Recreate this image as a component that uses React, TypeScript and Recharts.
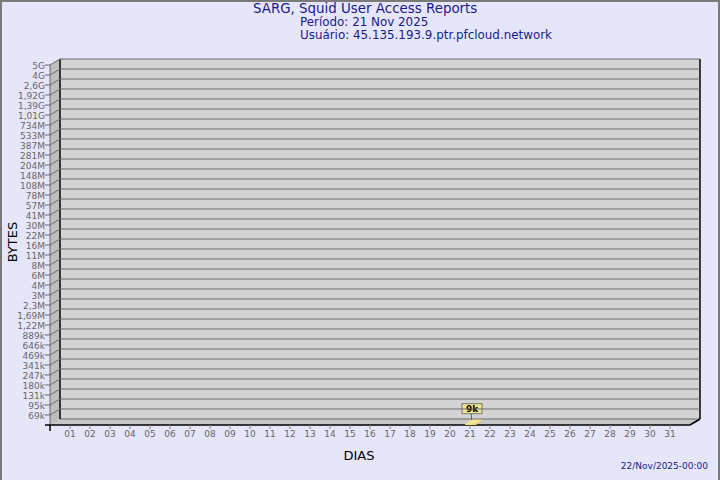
import React from "react";
import { ComposedChart, Bar, XAxis, YAxis, ReferenceArea } from "recharts";

const days = ["01","02","03","04","05","06","07","08","09","10","11","12","13","14","15","16","17","18","19","20","21","22","23","24","25","26","27","28","29","30","31"];
const bytesPerDay = [0,0,0,0,0,0,0,0,0,0,0,0,0,0,0,0,0,0,0,0,9000,0,0,0,0,0,0,0,0,0,0];
const barLabels = ["","","","","","","","","","","","","","","","","","","","","9k","","","","","","","","","",""];
const yTickLabels = ["69k","95k","131k","180k","247k","341k","469k","646k","889k","1,22M","1,69M","2,3M","3M","4M","6M","8M","11M","16M","22M","30M","41M","57M","78M","108M","148M","204M","281M","387M","533M","734M","1,01G","1,39G","1,92G","2,6G","4G","5G"];

const W = 720, H = 480;
const PLOT_LEFT = 50, PLOT_TOP = 65, PLOT_RIGHT = 690, PLOT_BOTTOM = 425;
const DX = 10, DY = 6;
const FONT = "'DejaVu Sans', sans-serif";

const parseLabel = (s: string) => {
  const unit = s.slice(-1);
  const n = parseFloat(s.slice(0, -1).replace(",", "."));
  const m = unit === "k" ? 1e3 : unit === "M" ? 1e6 : 1e9;
  return n * m;
};
const tickBytes = yTickLabels.map(parseLabel);
const bytesToLevel = (v: number) => {
  if (v <= 0) return 0;
  if (v <= tickBytes[0]) return v / tickBytes[0];
  for (let i = 0; i < tickBytes.length - 1; i++) {
    if (v <= tickBytes[i + 1]) return i + 1 + Math.log(v / tickBytes[i]) / Math.log(tickBytes[i + 1] / tickBytes[i]);
  }
  return tickBytes.length;
};

const chartData = days.map((d, i) => ({
  day: i + 1,
  bytes: bytesPerDay[i],
  label: barLabels[i],
  level: bytesPerDay[i] > 0 ? bytesToLevel(bytesPerDay[i]) : null,
}));

const yTicks = yTickLabels.map((_, i) => i + 1);
const xTicks = days.map((_, i) => i + 1);

const Planes = (props: any) => {
  const { x, y, width, height } = props;
  const b = y + height;
  const r = x + width;
  return (
    <g>
      <rect x={x + DX} y={y - DY} width={width} height={height} fill="#d3d3d3" />
      <polygon points={`${x},${b} ${x + DX},${b - DY} ${x + DX},${y - DY} ${x},${y}`} fill="#bebebe" />
      <polygon points={`${x},${b} ${r},${b} ${r + DX},${b - DY} ${x + DX},${b - DY}`} fill="#c6c6c6" />
      <line x1={x + DX} y1={b - DY} x2={r + DX} y2={b - DY} stroke="#6a6a6a" strokeWidth={1} />
      <line x1={x} y1={y} x2={x} y2={b} stroke="#6a6a6a" strokeWidth={1} />
      <line x1={x + DX} y1={y - DY} x2={x + DX} y2={b - DY} stroke="#000" strokeWidth={1.5} />
      <line x1={r + DX} y1={y - DY} x2={r + DX} y2={b - DY} stroke="#000" strokeWidth={1.5} />
      <line x1={x - 5} y1={b} x2={r} y2={b} stroke="#000" strokeWidth={1.5} />
      <line x1={r} y1={b} x2={r + DX} y2={b - DY} stroke="#000" strokeWidth={1.5} />
      <line x1={x} y1={b} x2={x} y2={b + 6} stroke="#000" strokeWidth={1.5} />
    </g>
  );
};

const YTick = (props: any) => {
  const { y, payload } = props;
  const label = yTickLabels[payload.value - 1];
  return (
    <g>
      <line x1={PLOT_LEFT + DX} y1={y - DY} x2={PLOT_RIGHT + DX} y2={y - DY} stroke="#6a6a6a" strokeWidth={1} />
      <line x1={PLOT_LEFT} y1={y} x2={PLOT_LEFT + DX} y2={y - DY} stroke="#6a6a6a" strokeWidth={1} />
      <line x1={PLOT_LEFT - 5} y1={y} x2={PLOT_LEFT} y2={y} stroke="#6a6a6a" strokeWidth={1} />
      <text x={PLOT_LEFT - 5} y={y + 1} textAnchor="end" dominantBaseline="central" fontFamily={FONT} fontSize={9} fill="#666">
        {label}
      </text>
    </g>
  );
};

const Bar3D = (props: any) => {
  const { x, y, width, height, payload } = props;
  if (!payload || !payload.bytes) return null;
  const bdx = 6, bdy = 4;
  const h = Math.max(height, 0);
  const cx = x + width / 2;
  return (
    <g>
      <rect x={x} y={y} width={width} height={h} fill="#e8d870" />
      <polygon points={`${x + width},${y + h} ${x + width + bdx},${y + h - bdy} ${x + width + bdx},${y - bdy} ${x + width},${y}`} fill="#d8c860" />
      <polygon points={`${x},${y} ${x + width},${y} ${x + width + bdx},${y - bdy} ${x + bdx},${y - bdy}`} fill="#f5e68e" />
      <line x1={cx + 1} y1={y - bdy} x2={cx + 1} y2={y - 10} stroke="#666" strokeWidth={1} />
      <rect x={cx - 8.5} y={y - 20} width={20} height={10} fill="#f0e68c" stroke="#777" strokeWidth={1} />
      <text x={cx + 1.5} y={y - 15} textAnchor="middle" dominantBaseline="central" fontFamily={FONT} fontSize={9} fontWeight="bold" fill="#000">
        {payload.label}
      </text>
    </g>
  );
};

const textStyle: React.CSSProperties = {
  position: "absolute",
  fontFamily: FONT,
  whiteSpace: "nowrap",
};

export default function App() {
  return (
    <div style={{ position: "absolute", left: 0, top: 0, width: W, height: H, background: "#e6e6fa", overflow: "hidden" }}>
      <ComposedChart
        width={W}
        height={H}
        data={chartData}
        margin={{ top: PLOT_TOP, right: W - PLOT_RIGHT, bottom: H - PLOT_BOTTOM - 20, left: 0 }}
      >
        <ReferenceArea x1={0} x2={32} y1={0} y2={36} shape={Planes} ifOverflow="visible" />
        <XAxis
          dataKey="day"
          type="number"
          domain={[0, 32]}
          ticks={xTicks}
          interval={0}
          height={20}
          axisLine={false}
          tickLine={{ stroke: "#888" }}
          tickSize={4}
          tickMargin={2}
          tickFormatter={(v: number) => days[v - 1]}
          tick={{ fontFamily: FONT, fontSize: 9, fill: "#666" }}
        />
        <YAxis
          type="number"
          domain={[0, 36]}
          ticks={yTicks}
          interval={0}
          width={PLOT_LEFT}
          axisLine={false}
          tickLine={false}
          tick={<YTick />}
        />
        <Bar dataKey="level" barSize={11} shape={<Bar3D />} isAnimationActive={false} />
      </ComposedChart>

      <div style={{ ...textStyle, left: 253, top: 1.5, fontSize: 13.4, lineHeight: "13px", color: "#1a1a8c" }}>SARG, Squid User Access Reports</div>
      <div style={{ ...textStyle, left: 300, top: 16.5, fontSize: 11.9, lineHeight: "11px", color: "#1a1a8c" }}>Período: 21 Nov 2025</div>
      <div style={{ ...textStyle, left: 300, top: 29.5, fontSize: 11.9, lineHeight: "11px", color: "#1a1a8c" }}>Usuário: 45.135.193.9.ptr.pfcloud.network</div>
      <div style={{ ...textStyle, left: 12, top: 242, fontSize: 13, lineHeight: 1, color: "#000", transform: "translate(-50%, -50%) rotate(-90deg)" }}>BYTES</div>
      <div style={{ ...textStyle, left: 359, top: 455, fontSize: 13, lineHeight: 1, color: "#000", transform: "translate(-50%, -50%)" }}>DIAS</div>
      <div style={{ ...textStyle, right: 12, top: 461, fontSize: 9, lineHeight: "10px", color: "#1a1a8c" }}>22/Nov/2025-00:00</div>
      <div style={{ position: "absolute", left: 0, top: 0, width: W, height: H, boxSizing: "border-box", borderLeft: "2px solid #7a7a7a", borderTop: "2px solid #7a7a7a", borderRight: "2px solid #7a7a7a", pointerEvents: "none" }} />
    </div>
  );
}
